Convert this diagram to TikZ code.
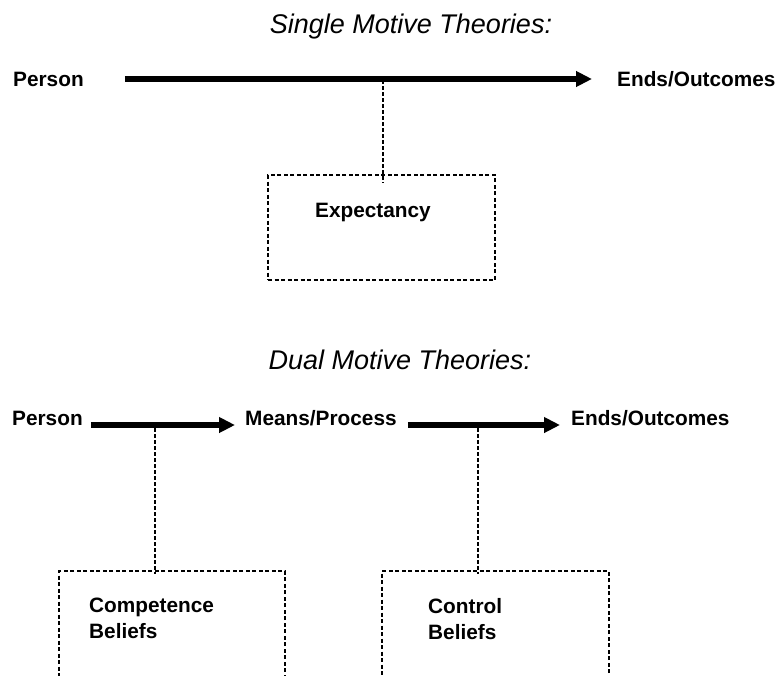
\documentclass[tikz,border=0pt]{standalone}
\usepackage{fontspec}
\setmainfont{Liberation Sans}
\usetikzlibrary{arrows.meta,positioning,calc}
\tikzset{
  lbl/.style={font=\fontsize{20.8}{26}\selectfont\bfseries, anchor=west, inner sep=0pt, align=left},
  heading/.style={font=\fontsize{27}{30}\selectfont\itshape, inner sep=0pt},
  flow/.style={line width=5.2pt, -{Triangle[length=16pt,width=15pt]}},
  tie/.style={line width=1.2pt, dash pattern=on 3.5pt off 2.5pt},
  beliefbox/.style={draw, line width=1.2pt, dash pattern=on 4pt off 2.5pt, inner sep=0pt}
}
\begin{document}
\begin{tikzpicture}[x=1pt,y=-1pt]
  \clip (0,0) rectangle (782,675);
  \fill[white] (0,0) rectangle (782,675);
  % single motive
  \node[heading] (title1) at (411,27) {Single Motive Theories:};
  \node[lbl] (person1) at (13,79) {Person};
  \node[lbl] (ends1) at (617,79) {Ends/Outcomes};
  \draw[flow, shorten <=41pt, shorten >=25pt] (person1.east) -- (person1.east -| ends1.west);
  \node[beliefbox, minimum width=227pt, minimum height=105pt] (expbox) at (381.5,227.5) {};
  \node[lbl] (expect) at (315,212) {Expectancy};
  \coordinate (mid1) at (383,80);
  \draw[tie] (mid1) -- ($(mid1 |- expbox.north)+(0,9)$);
  % dual motive
  \node[heading] (title2) at (400,360) {Dual Motive Theories:};
  \node[lbl, anchor=base west] (person2) at (12,425) {Person};
  \node[lbl, anchor=base west] (means) at (245,425) {Means/Process};
  \node[lbl, anchor=base west] (ends2) at (571,425) {Ends/Outcomes};
  \draw[flow, shorten <=8pt, shorten >=10pt] (person2.base east) -- (means.base west);
  \draw[flow, shorten <=11pt, shorten >=11pt] (means.base east) -- (ends2.base west);
  \node[beliefbox, minimum width=226pt, minimum height=200pt] (compbox) at (172,671) {};
  \node[beliefbox, minimum width=227pt, minimum height=200pt] (ctrlbox) at (495.5,671) {};
  \node[lbl, anchor=north west] (comp) at (89,598) {Competence\\Beliefs};
  \node[lbl, anchor=north west] (ctrl) at (428,598) {Control\\Beliefs};
  \coordinate (mid2) at (155,428);
  \coordinate (mid3) at (478,428);
  \draw[tie] (mid2) -- ($(mid2 |- compbox.north)+(0,4)$);
  \draw[tie] (mid3) -- ($(mid3 |- ctrlbox.north)+(0,4)$);
\end{tikzpicture}
\end{document}
